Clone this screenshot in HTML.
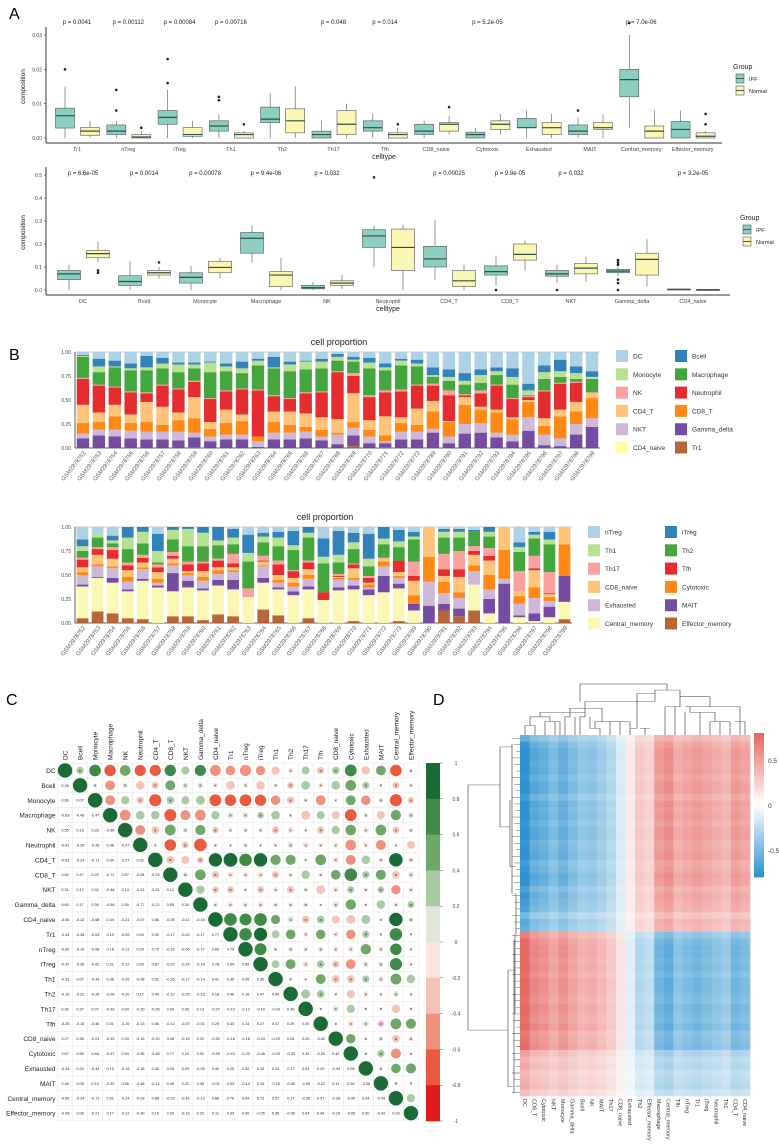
<!DOCTYPE html>
<html><head><meta charset="utf-8"><style>
html,body{margin:0;padding:0;background:#fff;overflow:hidden;}
svg{display:block;font-family:"Liberation Sans",sans-serif;}
</style></head><body>
<svg id="fig" width="779" height="1144" viewBox="0 0 779 1144" xmlns="http://www.w3.org/2000/svg">
<rect width="779" height="1144" fill="#fff"/>
<text x="9" y="19" font-size="16">A</text>
<text x="9" y="360" font-size="16">B</text>
<text x="6" y="705" font-size="16">C</text>
<text x="433" y="705" font-size="16">D</text>
<g id="pA"></g><g id="pB"></g><g id="pC"></g><g id="pD"></g>
</svg>
<script>
// ---------- Panel A data ----------
const catsA1 = ["Tr1","nTreg","iTreg","Th1","Th2","Th17","Tfh","CD8_naive","Cytotoxic","Exhausted","MAIT","Central_memory","Effector_memory"];
// [q1, median, q3, lowWhisker, highWhisker]
const ipfA1 = [[.0029,.0065,.0087,0,.015],[.001,.002,.0038,0,.005],[.004,.006,.008,0,.014],[.002,.0035,.005,0,.007],[.0045,.0055,.009,0,.013],[0,.001,.002,0,.005],[.002,.003,.005,0,.007],[.001,.002,.004,0,.005],[0,.001,.0017,0,.003],[.003,.003,.0057,0,.008],[.001,.002,.0038,0,.006],[.012,.017,.02,.003,.03],[0,.0025,.0048,0,.008]];
const normA1 = [[.0008,.002,.003,0,.005],[0,.0003,.001,0,.002],[.0005,.001,.003,0,.005],[0,.001,.0015,0,.002],[.0015,.005,.0085,0,.015],[.001,.004,.008,0,.01],[0,.001,.0015,0,.003],[.002,.004,.0045,.001,.0065],[.0025,.004,.005,.001,.007],[.001,.003,.0045,0,.007],[.0025,.003,.0045,0,.007],[0,.002,.0035,0,.008],[0,.0005,.0015,0,.002]];
const ipfOutA1 = [[.02],[.008,.014],[.016,.023],[.011,.012],[],[],[],[],[],[],[.008],[.0335],[]];
const normOutA1 = [[],[.003],[],[.004],[],[],[.004],[.009],[],[],[],[],[.004,.007]];
const pA1 = ["p = 0.0041","p = 0.00112","p = 0.00084","p = 0.00716","","p = 0.048","p = 0.014","","p = 5.2e-05","","","p = 7.0e-06",""];
const ticksA1 = [0,0.01,0.02,0.03];
const ticksA1Lab = ["0.00","0.01","0.02","0.03"];

const catsA2 = ["DC","Bcell","Monocyte","Macrophage","NK","Neutrophil","CD4_T","CD8_T","NKT","Gamma_delta","CD4_naive"];
const ipfA2 = [[.045,.07,.085,0,.11],[.02,.037,.062,0,.125],[.03,.055,.075,0,.105],[.16,.225,.25,.12,.28],[.005,.01,.02,0,.035],[.185,.235,.262,.1,.28],[.1,.135,.19,.045,.305],[.065,.08,.105,.02,.15],[.06,.07,.085,.03,.11],[.075,.082,.09,.06,.1],[.002,.003,.004,0,.005]];
const normA2 = [[.14,.158,.172,.12,.21],[.065,.075,.085,.05,.1],[.075,.098,.125,.05,.14],[.015,.065,.08,0,.14],[.02,.03,.04,.005,.065],[.085,.185,.265,0,.285],[.015,.04,.085,0,.11],[.13,.155,.2,.085,.215],[.07,.095,.115,.035,.145],[.065,.133,.16,.015,.22],[0,.001,.002,0,.002]];
const ipfOutA2 = [[],[],[],[],[],[.49],[],[0],[0],[0,.03,.045,.11,.12,.13],[]];
const normOutA2 = [[.075,.085],[.12],[],[],[],[],[],[],[],[],[]];
const pA2 = ["p = 6.6e-05","p = 0.0014","p = 0.00078","p = 9.4e-06","p = 0.032","","p = 0.00025","p = 9.8e-05","p = 0.032","","p = 3.2e-05"];
const ticksA2 = [0,0.1,0.2,0.3,0.4,0.5];
const ticksA2Lab = ["0.0","0.1","0.2","0.3","0.4","0.5"];

// ---------- Panel B data ----------
const samples = ["GSM2978752","GSM2978753","GSM2978754","GSM2978755","GSM2978756","GSM2978757","GSM2978758","GSM2978759","GSM2978760","GSM2978761","GSM2978762","GSM2978763","GSM2978764","GSM2978765","GSM2978766","GSM2978767","GSM2978768","GSM2978769","GSM2978770","GSM2978771","GSM2978772","GSM2978773","GSM2978789","GSM2978790","GSM2978791","GSM2978792","GSM2978793","GSM2978794","GSM2978795","GSM2978796","GSM2978797","GSM2978798","GSM2978799"];
const compB1 = ["Tr1","Gamma_delta","NKT","CD8_T","CD4_T","Neutrophil","NK","Macrophage","Monocyte","Bcell","DC"];
const colB1 = ["#b15928","#6a3d9a","#cab2d6","#ff7f00","#fdbf6f","#e31a1c","#fb9a99","#33a02c","#b2df8a","#1f78b4","#a6cee3"];
const fracB1 = [
[0,.10,.05,.11,.19,.27,.01,.22,.01,.01],[0,.13,.06,.08,.10,.28,.01,.13,.06,.08],[0,.12,.07,.14,.12,.18,.01,.20,.01,.06],[0,.10,.08,.08,.09,.23,.01,.22,.02,.05],
[0,.09,.08,.10,.21,.09,.01,.23,.03,.12],[0,.09,.08,.07,.19,.22,.01,.17,.05,.06],[0,.08,.09,.12,.08,.24,.01,.17,.08,.02],[.01,.10,.05,.15,.22,.16,.01,.13,.04,.02],
[0,.07,.05,.08,.07,.24,.01,.27,.10,.01],[0,.09,.05,.12,.14,.19,.01,.20,.05,.03],[0,.09,.05,.14,.07,.26,.01,.16,.05,.07],[0,.01,.06,.05,0,.48,.01,.25,.05,.02],
[0,.09,.07,.11,.11,.16,.01,.28,.01,.11],[0,.09,.07,.08,.14,.13,.01,.28,.07,.03],[0,.10,.07,.05,.14,.21,.01,.24,.08,.01],[0,.08,.04,.07,.13,.26,.01,.24,.07,.03],
[0,.04,.10,.02,.14,.49,.01,.11,.04,.03],[.02,.11,.08,.06,.30,.18,.03,.12,.02,.03],[0,.05,.07,.07,.10,.24,.02,.28,.06,.05],[.01,.04,.02,.06,.20,.25,.02,.21,.03,.04],
[0,.09,.08,.09,.06,.27,.02,.25,.05,.02],[0,.09,.08,.07,.17,.24,.01,.19,.03,.04],[0,.16,.04,.18,.11,.16,.02,.07,.02,.08],[0,.05,.07,.15,.01,.27,.05,.10,.04,.08],
[0,.15,.10,.20,.08,.02,.01,.10,.04,.08],[0,.16,.10,.14,.03,.14,.03,.08,.08,.06],[0,.11,.05,.21,.03,.25,.01,.10,.04,.04],[0,.07,.07,.16,.02,.19,.01,.14,.08,.09],
[0,.18,.14,.16,.02,.03,.01,.01,.05,.07],[0,.03,.11,.09,.08,.28,.01,.12,.07,.07],[0,.02,.08,.23,.07,.27,.01,.06,.06,.12],[0,.14,.11,.13,.10,.20,.01,.03,.06,.07],
[0,.22,.09,.21,.05,0,.01,.14,.02,.06]];
const compB2 = ["Effector_memory","Central_memory","MAIT","Exhausted","Cytotoxic","CD8_naive","Tfh","Th17","Th2","Th1","iTreg","nTreg"];
const colB2 = ["#b15928","#fbf7b0","#6a3d9a","#cab2d6","#ff7f00","#fdbf6f","#e31a1c","#fb9a99","#33a02c","#b2df8a","#1f78b4","#a6cee3"];
const fracB2 = [
[.05,.33,.02,.10,.03,.05,.08,.02,.07,.05,.07],[.12,.35,.01,.11,.02,.10,.06,.02,.10,.04,0],[.10,.32,.05,.10,.02,.08,.09,.03,.04,.03,.05],[.05,.28,.02,.08,.05,.07,.05,.03,.14,.12,.14],
[.04,.40,.02,.10,.02,.05,.05,.03,.12,.12,.10],[0,.37,.02,.03,.04,.07,.05,.03,.02,.12,.18],[.07,.26,.19,.08,.02,.05,.03,.04,.13,.10,.14],[.07,.30,.07,.06,.02,.02,.07,.03,.16,.18,.18],
[.03,.31,.02,.08,.04,.06,.08,.02,.16,.14,.06],[.09,.30,.06,.06,.04,.03,.07,.02,.14,.05,.15],[.07,.28,.10,.08,.02,.03,.04,.10,.10,.07,.09],[0,.27,0,0,0,0,0,.09,.28,.09,.19],
[.14,.28,.05,.12,.01,.04,.01,.05,.14,.06,.04],[.08,.27,.02,.05,.03,.05,.11,.04,.15,.09,.06],[0,.29,.04,.05,.04,.05,.07,.01,.21,.05,.15],[.05,.30,.03,.08,.04,.06,.07,.02,.24,.05,.09],
[0,.24,0,0,0,0,.08,0,.30,.07,.19],[0,.34,.03,.08,.02,.01,.01,.02,.12,.08,.25],[.02,.33,.04,.06,.02,.10,.04,.01,.15,.07,.10],[0,.29,.06,.02,.03,.02,.05,.02,.10,.08,.26],
[0,.32,.17,.10,.05,.03,0,.01,.14,.06,.14],[.02,.34,.05,.06,.02,.04,.12,0,.14,.06,.12],[0,.13,.07,0,.09,.15,.05,.15,.23,.03,.05],[0,0,.18,.25,.26,.31,0,0,0,0,0],
[.13,0,.07,.11,.12,.06,.07,.16,.17,.06,.03],[.07,0,.08,.11,.06,.16,.08,.19,.14,.06,.03],[.13,.27,0,.14,.06,.11,.04,.05,.15,0,.02],[0,.10,.15,.10,.15,.15,.05,.08,.12,.05,.05],
[0,0,.41,.05,.30,.24,0,0,0,0,0],[0,.06,.02,.12,.08,.05,0,.21,.20,.05,.05],[0,.02,.08,.16,.11,.18,.02,.13,.18,.04,.03],[0,.06,.11,.06,.04,.03,.01,.22,.29,.05,.08],
[.04,.18,.27,0,.33,.19,0,0,0,0,0]];
const ticksB = [0,0.25,0.5,0.75,1];
const ticksBLab = ["0.00","0.25","0.50","0.75","1.00"];
const legB1a = ["DC","Monocyte","NK","CD4_T","NKT","CD4_naive"];
const legB1aCol = ["#a6cee3","#b2df8a","#fb9a99","#fdbf6f","#cab2d6","#ffff99"];
const legB1b = ["Bcell","Macrophage","Neutrophil","CD8_T","Gamma_delta","Tr1"];
const legB1bCol = ["#1f78b4","#33a02c","#e31a1c","#ff7f00","#6a3d9a","#b15928"];
const legB2a = ["nTreg","Th1","Th17","CD8_naive","Exhausted","Central_memory"];
const legB2b = ["iTreg","Th2","Tfh","Cytotoxic","MAIT","Effector_memory"];

// ---------- Panel C data ----------
const cellsC = ["DC","Bcell","Monocyte","Macrophage","NK","Neutrophil","CD4_T","CD8_T","NKT","Gamma_delta","CD4_naive","Tr1","nTreg","iTreg","Th1","Th2","Th17","Tfh","CD8_naive","Cytotoxic","Exhausted","MAIT","Central_memory","Effector_memory"];
const lowerC = [[],[.26],[.66,.07],[-.63,-.46,-.47],[.55,.13,.33,-.56],[-.61,-.35,-.26,.36,-.47],[-.61,-.24,-.71,.34,-.27,.02],[.62,.47,.29,-.71,.57,-.64,-.29],[.31,.17,.32,-.48,.13,-.21,-.31,.12],[.60,.17,.39,-.56,.50,-.77,-.22,.55,.34],[-.56,-.12,-.68,.34,-.21,-.07,.86,-.26,-.21,-.15],[-.44,-.38,-.63,.19,-.09,0,.92,-.17,-.22,-.17,.77],[-.60,-.16,-.68,.18,-.11,.09,.75,-.16,-.06,-.17,.69,.75],[-.42,-.36,-.62,.21,-.12,0,.87,-.20,-.24,-.19,.78,.84,.69],[-.33,.07,-.43,.36,-.26,-.08,.51,-.26,-.17,-.14,.41,.30,.06,.30],[-.16,-.22,-.26,-.06,-.20,.17,.49,-.10,-.25,-.15,.18,.46,.16,.47,.06],[.30,.37,.07,-.39,.04,-.20,-.05,.34,.09,.13,-.27,-.12,-.12,-.19,-.04,.40],[-.25,-.15,-.46,.31,-.26,-.13,.56,-.12,-.37,-.01,.29,.43,.14,.27,.47,.29,0],[.27,.36,-.01,-.32,.33,-.15,-.20,.45,-.19,.20,-.32,-.16,-.16,-.24,-.29,.05,.20,-.02],[.67,.55,.46,-.67,.54,-.55,-.48,.77,.24,.52,-.39,-.43,-.20,-.46,-.29,-.33,.32,-.20,.42],[-.34,.24,-.44,.10,-.16,-.18,.36,.26,.09,-.05,.40,.25,.52,.15,.24,-.17,.04,.20,-.04,.05],[.46,.05,.12,-.32,.56,-.48,-.14,.49,.21,.35,-.01,.03,-.14,.10,-.18,-.06,-.05,-.22,.11,.26,-.08],[-.65,-.24,-.71,.51,-.24,-.03,.88,-.29,-.42,-.13,.86,.76,.64,.72,.57,.17,-.35,.57,-.28,-.49,.44,-.09],[-.08,.08,-.21,.17,-.11,-.30,.16,.20,-.16,.22,.11,.03,0,-.05,.35,-.06,.04,.49,-.15,-.05,.50,-.02,.33]];
const binColsC = ["#e31a1c","#ea5a3f","#f0917c","#f6c3b7","#fbe3df","#dfe6dc","#a9cba3","#6fa768","#3f8a47","#1b6b37"];
const ticksC = [1,0.8,0.6,0.4,0.2,0,-0.2,-0.4,-0.6,-0.8,-1];

// ---------- Panel D data ----------
const colsD = ["DC","CD8_T","Cytotoxic","NKT","Monocyte","Gamma_delta","Bcell","NK","MAIT","Th17","CD8_naive","Exhausted","Th2","Effector_memory","Macrophage","Central_memory","Tfh","nTreg","Tr1","iTreg","Neutrophil","Th1","CD4_T","CD4_naive"];
const colBaseD = [-.85,-.65,-.6,-.5,-.6,-.5,-.42,-.45,-.38,-.3,-.15,.12,.3,.25,.55,.62,.45,.5,.55,.5,.45,.4,.55,.5];
const rowScaleD = [.7,.9,1,1,.95,1,.9,1,1,.85,1,.95,1,.9,1,1,.9,.95,1,.85,.9,1,.95,.8,.9,.85,.8,.6,.75,.7,
 -.8,-.95,-1,-1,-.95,-1,-.9,-1,-1,-.95,-.9,-1,-.95,-.9,-1,-.85,-.9,-.95,-.6,-.5,-.55,-.45,-.5,-.55,-.4];
const ticksD = [0.5,0,-0.5];
const ticksDLab = ["0.5","0","-0.5"];

const NS = "http://www.w3.org/2000/svg";
function mk(parent, tag, attrs, txt){
  const e = document.createElementNS(NS, tag);
  for (const k in attrs) e.setAttribute(k, attrs[k]);
  if (txt !== undefined) e.textContent = txt;
  parent.appendChild(e);
  return e;
}
let el;

// ================= Panel A =================
const gA = document.getElementById("pA");
function boxPanel(cfg){
  const {cats, ipf, norm, ipfOut, normOut, pv, ticks, tickLab, y0, yTop, x0, x1, axisY, step, c0, off1, off2, bw, pY, legY} = cfg;
  const yS = v => y0 - (v/ticks[ticks.length-1])*(y0-yTop);
  el = mk(gA,"line",{x1:x0,y1:yTop-8,x2:x0,y2:axisY,stroke:"#333","stroke-width":1});
  
  
  el = mk(gA,"line",{x1:x0,y1:axisY,x2:x1,y2:axisY,stroke:"#333","stroke-width":1});
  
  
  ticks.forEach((t,i)=>{
    el = mk(gA,"text",{x:x0-4,y:yS(t)+2,"font-size":5,"text-anchor":"end",fill:"#444"},tickLab[i]);
    
    
    mk(gA,"line",{x1:x0-2,y1:yS(t),x2:x0,y2:yS(t),stroke:"#333","stroke-width":0.6});
  });
  el = mk(gA,"text",{x:0,y:0,"font-size":6.5,"text-anchor":"middle",fill:"#222",transform:`translate(25,${(yTop+y0)/2}) rotate(-90)`},"composition");
  
  
  el = mk(gA,"text",{x:(x0+x1)/2,y:axisY+16,"font-size":7,"text-anchor":"middle",fill:"#222"},"celltype");
  
  
  function box(st, outs, cx, fill, grp){
    const g = mk(gA,"g",{});
    
    
    mk(g,"line",{x1:cx,y1:yS(st[3]),x2:cx,y2:yS(st[4]),stroke:"#555","stroke-width":0.6});
    mk(g,"rect",{x:cx-bw/2,y:yS(st[2]),width:bw,height:Math.max(1,yS(st[0])-yS(st[2])),fill:fill,stroke:"#555","stroke-width":0.6});
    mk(g,"line",{x1:cx-bw/2,y1:yS(st[1]),x2:cx+bw/2,y2:yS(st[1]),stroke:"#2f4f4a","stroke-width":1.2});
    outs.forEach(o=>{ mk(g,"circle",{cx:cx,cy:yS(o),r:1.3,fill:"#222"}); });
  }
  cats.forEach((c,i)=>{
    const cx = c0 + i*step;
    box(ipf[i], ipfOut[i], cx+off1, "#8ccfc1", "ipf-"+c);
    box(norm[i], normOut[i], cx+off2, "#fbf6b4", "normal-"+c);
    el = mk(gA,"text",{x:cx,y:axisY+8,"font-size":5.5,"text-anchor":"middle",fill:"#444"},c);
    
    
    if (pv[i]) {
      el = mk(gA,"text",{x:cx,y:pY,"font-size":6,"text-anchor":"middle",fill:"#222"},pv[i]);
      
      
    }
  });
  const lx = legY[0], ly = legY[1];
  el = mk(gA,"text",{x:lx,y:ly+3,"font-size":7,fill:"#222"},"Group");
  
  
  [["IPF","#8ccfc1"],["Normal","#fbf6b4"]].forEach((p,k)=>{
    const yy = ly+8+k*12;
    el = mk(gA,"rect",{x:lx+3,y:yy,width:8,height:9,fill:p[1],stroke:"#555","stroke-width":0.6});
    
    
    mk(gA,"line",{x1:lx+3,y1:yy+4.5,x2:lx+11,y2:yy+4.5,stroke:"#2f4f4a","stroke-width":0.9});
    el = mk(gA,"text",{x:lx+16,y:yy+7,"font-size":5.5,fill:"#222"},p[0]);
    
    
  });
}
boxPanel({cats:catsA1, ipf:ipfA1, norm:normA1, ipfOut:ipfOutA1, normOut:normOutA1, pv:pA1, ticks:ticksA1, tickLab:ticksA1Lab,
  y0:138, yTop:35, x0:46, x1:722, axisY:143, step:51.3, c0:77, off1:-12, off2:13, bw:19, pY:24, legY:[733,66]});
boxPanel({cats:catsA2, ipf:ipfA2, norm:normA2, ipfOut:ipfOutA2, normOut:normOutA2, pv:pA2, ticks:ticksA2, tickLab:ticksA2Lab,
  y0:290, yTop:175, x0:46, x1:730, axisY:295, step:61, c0:83, off1:-14, off2:15, bw:23, pY:175, legY:[740,217]});

// ================= Panel B =================
const gB = document.getElementById("pB");
function stackPanel(cfg){
  const {frac, cols, comps, x0, x1, y0, yTop, title, tx, ty, tag} = cfg;
  const yS = v => y0 - v*(y0-yTop);
  const step = (x1-x0)/samples.length, bw = step*0.78;
  el = mk(gB,"text",{x:tx,y:ty,"font-size":9,"text-anchor":"middle",fill:"#222"},title);
  
  
  ticksB.forEach((t,i)=>{
    el = mk(gB,"text",{x:x0-4,y:yS(t)+2,"font-size":5,"text-anchor":"end",fill:"#444"},ticksBLab[i]);
    
    
  });
  el = mk(gB,"line",{x1:x0,y1:yTop,x2:x0,y2:y0,stroke:"#333","stroke-width":0.8});
  
  
  el = mk(gB,"line",{x1:x0,y1:yTop,x2:x1,y2:yTop,stroke:"#bbb","stroke-width":0.8});
  
  
  el = mk(gB,"line",{x1:x0,y1:y0,x2:x1,y2:y0,stroke:"#333","stroke-width":0.8});
  
  
  samples.forEach((s,i)=>{
    const cx = x0 + step*(i+0.5);
    let cum = 0;
    const f = frac[i];
    const total = f.reduce((a,b)=>a+b,0);
    const parts = f.concat([Math.max(0,1-total)]);
    parts.forEach((v,k)=>{
      if (v<=0) return;
      const top = Math.min(1,cum+v);
      el = mk(gB,"rect",{x:cx-bw/2,y:yS(top),width:bw,height:yS(cum)-yS(top),fill:cols[k],opacity:0.92});
      
      
      cum = top;
    });
    el = mk(gB,"text",{x:0,y:0,"font-size":5.8,"text-anchor":"end",fill:"#555",transform:`translate(${cx+3},${y0+5}) rotate(-52)`},s);
    
    
  });
}
stackPanel({frac:fracB1, cols:colB1, comps:compB1, x0:75, x1:600, y0:448, yTop:352, title:"cell proportion", tx:339, ty:345, tag:"top"});
stackPanel({frac:fracB2, cols:colB2, comps:compB2, x0:75, x1:572, y0:623, yTop:527, title:"cell proportion", tx:325, ty:520, tag:"bottom"});
function legendB(labels, colors, x, y0){
  labels.forEach((l,i)=>{
    const y = y0 + i*18.3;
    el = mk(gB,"rect",{x:x,y:y-6,width:12,height:12,fill:colors[i],opacity:0.92});
    
    
    el = mk(gB,"text",{x:x+17,y:y+2.5,"font-size":6.5,fill:"#333"},l);
    
    
  });
}
legendB(legB1a, legB1aCol, 616, 356);
legendB(legB1b, legB1bCol, 675, 356);
legendB(legB2a, ["#a6cee3","#b2df8a","#fb9a99","#fdbf6f","#cab2d6","#fbf7b0"], 588, 532);
legendB(legB2b, ["#1f78b4","#33a02c","#e31a1c","#ff7f00","#6a3d9a","#b15928"], 665, 532);

// ================= Panel C =================
const gC = document.getElementById("pC");
const n = cellsC.length, cw = 15.04, ch = 14.9, gx = 57.5, gy = 763;
const corr = (i,j)=> i===j ? 1 : (i>j ? lowerC[i][j] : lowerC[j][i]);
const binCol = v => binColsC[Math.min(9, Math.max(0, Math.floor((v+1)/0.2)))];
for (let i=0;i<=n;i++){
  mk(gC,"line",{x1:gx,y1:gy+i*ch,x2:gx+n*cw,y2:gy+i*ch,stroke:"#e4e4e4","stroke-width":0.5});
  mk(gC,"line",{x1:gx+i*cw,y1:gy,x2:gx+i*cw,y2:gy+n*ch,stroke:"#e4e4e4","stroke-width":0.5});
}
cellsC.forEach((c,i)=>{
  el = mk(gC,"text",{x:gx-2,y:gy+i*ch+ch/2+2.5,"font-size":6.5,"text-anchor":"end",fill:"#222"},c);
  
  
  el = mk(gC,"text",{x:0,y:0,"font-size":6.5,fill:"#222",transform:`translate(${gx+i*cw+cw/2+2.5},${gy-3}) rotate(-90)`},c);
  
  
});
for (let i=0;i<n;i++){
  for (let j=0;j<n;j++){
    const v = corr(i,j), cx = gx+j*cw+cw/2, cy = gy+i*ch+ch/2;
    if (j<i){
      el = mk(gC,"text",{x:cx,y:cy+1.4,"font-size":3.8,"text-anchor":"middle",fill:"#222"},v.toFixed(2));
      
      
    } else {
      const r = 7.2*Math.sqrt(Math.abs(v));
      el = mk(gC,"circle",{cx:cx,cy:cy,r:Math.max(r,1.2),fill:binCol(v)});
      
      
      if (i!==j && Math.abs(v)<0.3){
        el = mk(gC,"text",{x:cx,y:cy+1.8,"font-size":4.5,"text-anchor":"middle",fill:"#111"},"×");
        
        
      }
    }
  }
}
const cbx = 426, cby0 = 763, cby1 = 1121, cbh = (cby1-cby0)/10;
binColsC.slice().reverse().forEach((col,k)=>{
  el = mk(gC,"rect",{x:cbx,y:cby0+k*cbh,width:14,height:cbh+0.3,fill:col});
  
  
});
ticksC.forEach((t,k)=>{
  const y = cby0 + k*(cby1-cby0)/10;
  mk(gC,"line",{x1:cbx+14,y1:y,x2:cbx+17,y2:y,stroke:"#555","stroke-width":0.5});
  el = mk(gC,"text",{x:456,y:y+2,"font-size":5,"text-anchor":"middle",fill:"#444"},String(t));
  
  
});

// ================= Panel D =================
const gD = document.getElementById("pD");
const hx0 = 520, hx1 = 750, hy0 = 735, hy1 = 1096;
const hcw = (hx1-hx0)/colsD.length, hrh = (hy1-hy0)/rowScaleD.length;
function heatCol(v){
  v = Math.max(-0.8, Math.min(0.8, v))/0.8;
  if (v>=0){ const a=v; return `rgb(${Math.round(255-a*(255-229))},${Math.round(255-a*(255-106))},${Math.round(255-a*(255-100))})`; }
  const a=-v; return `rgb(${Math.round(255-a*(255-45))},${Math.round(255-a*(255-146))},${Math.round(255-a*(255-206))})`;
}
rowScaleD.forEach((s,r)=>{
  colBaseD.forEach((b,c)=>{
    el = mk(gD,"rect",{x:hx0+c*hcw,y:hy0+r*hrh,width:hcw+0.3,height:hrh+0.3,fill:heatCol(b*s)});
    
    
  });
});
colsD.forEach((c,k)=>{
  el = mk(gD,"text",{x:0,y:0,"font-size":5.5,fill:"#333",transform:`translate(${hx0+k*hcw+hcw/2-2},${hy1+3}) rotate(90)`},c);
  
  
});
const dTop = "M525,762V748H535V762M530,748V735H550V742H545V762M555,742V762M550,742H560V762M540,735V728H585M585,728V722H570V735H565V762M575,735V762M585,728V735H580V762M590,735V752H600V762M595,752V742H610V762M605,742H620V762M615,742H630V762M602,742V722H570M585,722V712H655M655,712V700H637V752H630V762M645,752V762M640,752H650M655,700V695H680V720H665V762M675,720V762M690,720V728H700V762M685,728V762M700,728H715V742H710V762M720,742V762M715,742H730V762M740,762V742H735M745,762V742M685,720H740V742H745M710,720V705H680M580,712V686H667V695";
el = mk(gD,"path",{d:dTop,fill:"none",stroke:"#333","stroke-width":0.6,transform:"matrix(1,0,0,0.671,0,223.7)"});


let dLeft = "M468,837H500M468,837V1205H508M500,780V900M500,780H512M500,900H510M508,1115V1290M508,1115H515M508,1290H514M510,860V960H516M515,1060V1180";
const oh = 542/rowScaleD.length;
for (let k=0;k<rowScaleD.length;k++){ const y = 762 + k*oh + oh/2; dLeft += `M${512+(k%3)*2},${y}H520`; }
dLeft += "M512,775V1000M514,1070V1300M516,1000V1060";
el = mk(gD,"path",{d:dLeft,fill:"none",stroke:"#333","stroke-width":0.6,transform:"matrix(1,0,0,0.666,0,227.5)"});


const dcb0 = 733, dcb1 = 877, steps = 40;
for (let k=0;k<steps;k++){
  const v = 0.8 - 1.6*k/(steps-1);
  el = mk(gD,"rect",{x:754,y:dcb0+k*(dcb1-dcb0)/steps,width:10,height:(dcb1-dcb0)/steps+0.4,fill:heatCol(v)});
  
  
}
ticksD.forEach((t,i)=>{
  const y = dcb0 + (0.8-t)/1.6*(dcb1-dcb0);
  el = mk(gD,"text",{x:768,y:y+3,"font-size":6.5,fill:"#333"},ticksDLab[i]);
  
  
});
</script>
</body></html>
